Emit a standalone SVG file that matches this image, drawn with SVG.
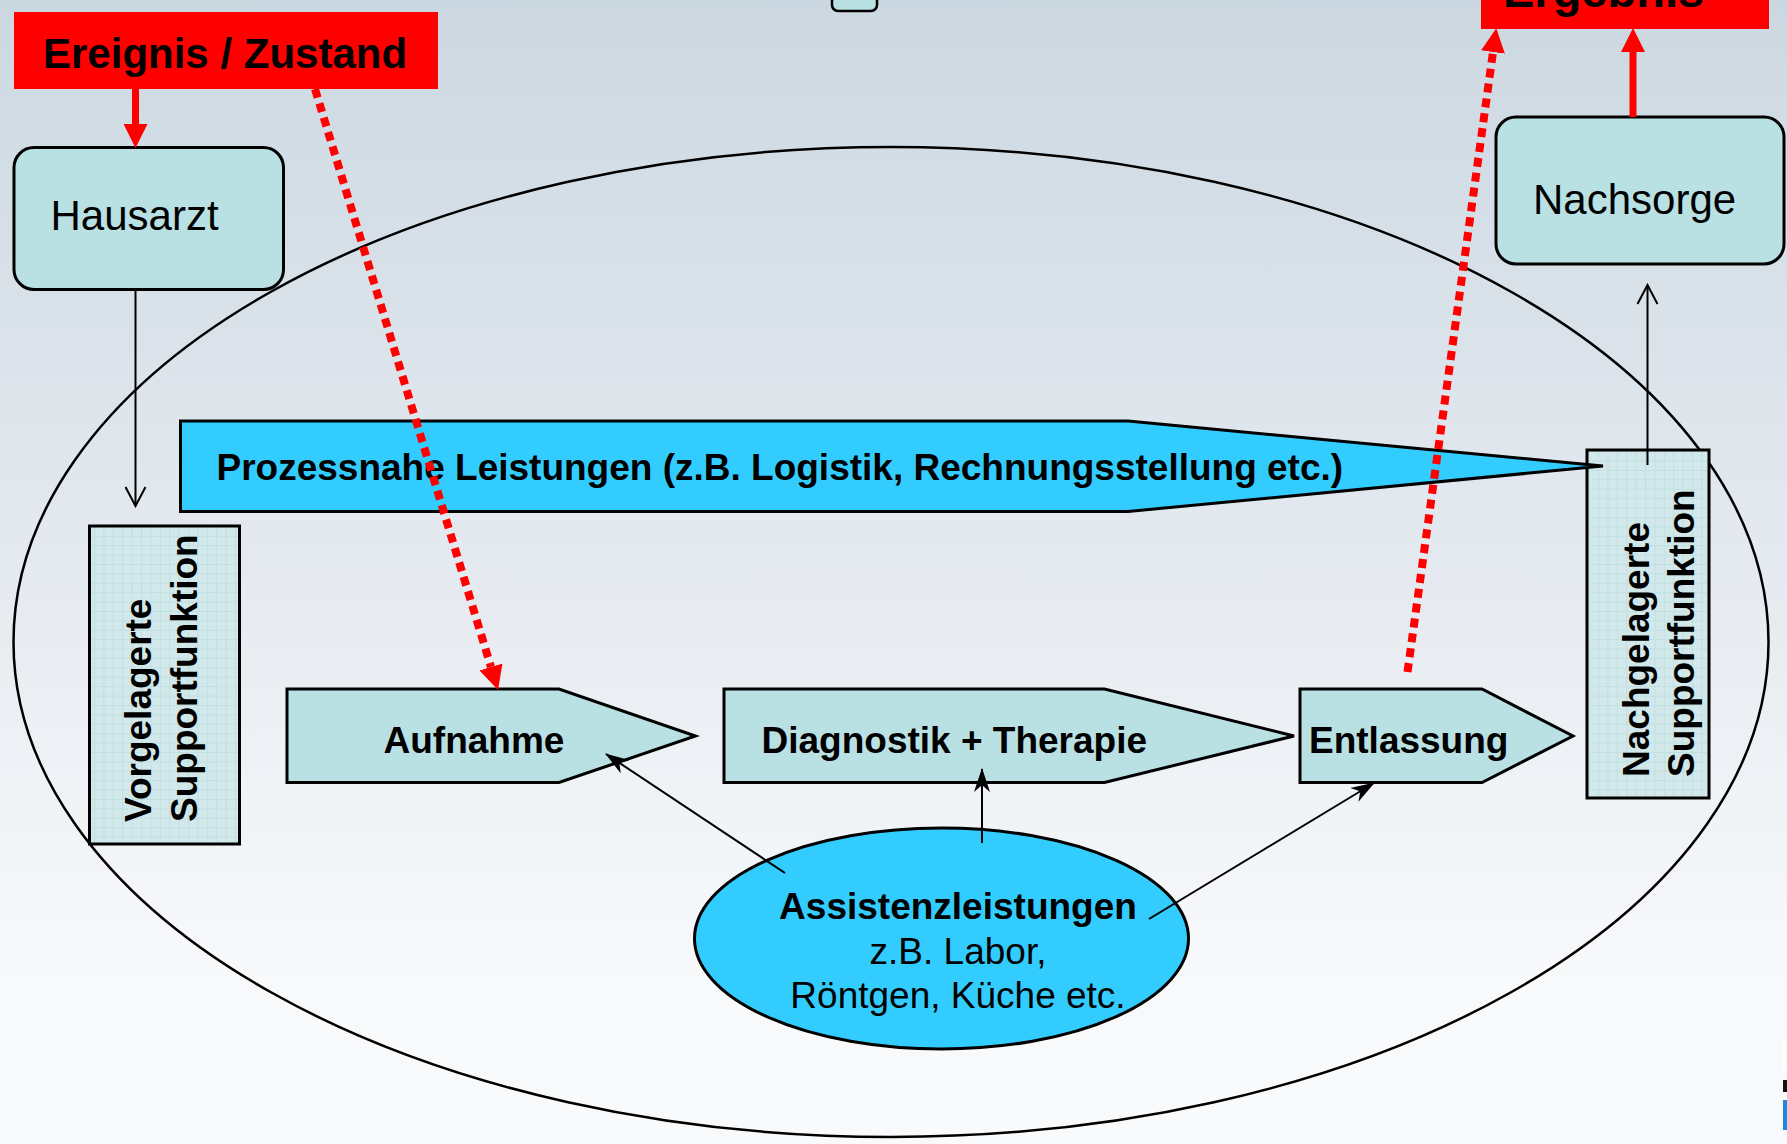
<svg xmlns="http://www.w3.org/2000/svg" width="1787" height="1144" viewBox="0 0 1787 1144">
<defs>
<linearGradient id="bg" x1="0" y1="0" x2="0" y2="1144" gradientUnits="userSpaceOnUse">
<stop offset="0" stop-color="#CCD8E1"/>
<stop offset="0.5" stop-color="#E5EAF0"/>
<stop offset="0.85" stop-color="#F8F9FB"/>
<stop offset="1" stop-color="#F9FAFC"/>
</linearGradient>
<pattern id="grid" width="9.4" height="9.4" patternUnits="userSpaceOnUse">
<rect width="9.4" height="9.4" fill="#D3E8EA"/>
<path d="M0,0.5 H9.4 M0.5,0 V9.4" stroke="#BFE0E2" stroke-width="1" fill="none"/>
</pattern>
<marker id="redHead" markerUnits="userSpaceOnUse" markerWidth="24" markerHeight="24" viewBox="0 0 24 24" refX="0" refY="12" orient="auto">
<path d="M0,0 L24,12 L0,24 Z" fill="#FF0000"/>
</marker>
<marker id="stealth" markerUnits="userSpaceOnUse" markerWidth="24" markerHeight="16" viewBox="0 0 24 16" refX="23" refY="8" orient="auto">
<path d="M0,0 L24,8 L0,16 L7,8 Z" fill="#000"/>
</marker>
<marker id="openV" markerUnits="userSpaceOnUse" markerWidth="22" markerHeight="24" viewBox="0 0 22 24" refX="20" refY="12" orient="auto">
<path d="M1,2 L20,12 L1,22" fill="none" stroke="#000" stroke-width="2"/>
</marker>
</defs>
<style>
.t{font-family:"Liberation Sans",Arial,sans-serif;fill:#000}
.b{font-weight:bold}
.teal{fill:#B9E0E3;stroke:#000;stroke-width:3}
.sup{fill:url(#grid);stroke:#000;stroke-width:3}
.red{fill:#FF0000}
.conn{stroke:#000;stroke-width:2;fill:none}
.redline{stroke:#FF0000;stroke-width:7;fill:none}
.reddot{stroke:#FF0000;stroke-width:8;fill:none;stroke-dasharray:9 6}
</style>
<rect x="0" y="0" width="1787" height="1144" fill="url(#bg)"/>
<rect x="1783" y="1040" width="4" height="30" fill="#FFFFFF"/>
<rect x="1783" y="1080" width="4" height="12" fill="#111"/>
<rect x="1783" y="1100" width="4" height="30" fill="#1E84E0"/>

<g id="frame">
<ellipse cx="891" cy="642" rx="877.5" ry="495" fill="none" stroke="#000" stroke-width="2.5"/>
</g>

<g id="top-box">
<rect x="832" y="-30" width="45" height="41" rx="6" fill="#B9E0E3" stroke="#000" stroke-width="2.5"/>
</g>

<g id="ereignis">
<rect class="red" x="14" y="12" width="424" height="77"/>
<text class="t b" x="43" y="68" font-size="42">Ereignis / Zustand</text>
</g>

<g id="ergebnis">
<rect class="red" x="1481" y="-40" width="288" height="69"/>
<text class="t b" x="1503" y="7" font-size="47">Ergebnis</text>
</g>

<g id="hausarzt">
<rect class="teal" x="14" y="147.5" width="269.5" height="142" rx="20"/>
<text class="t" x="50.5" y="229.5" font-size="42">Hausarzt</text>
</g>

<g id="nachsorge">
<rect class="teal" x="1496" y="117" width="288" height="147" rx="20"/>
<text class="t" x="1533" y="214" font-size="42">Nachsorge</text>
</g>

<g id="vorgelagerte">
<rect class="sup" x="89.5" y="526" width="150" height="318"/>
<text class="t b" font-size="37" transform="translate(151,822) rotate(-90)">Vorgelagerte</text>
<text class="t b" font-size="37" transform="translate(196.5,822) rotate(-90)">Supportfunktion</text>
</g>

<g id="nachgelagerte">
<rect class="sup" x="1587" y="450" width="122" height="348"/>
<text class="t b" font-size="37" transform="translate(1649,777) rotate(-90)">Nachgelagerte</text>
<text class="t b" font-size="37" transform="translate(1694,777) rotate(-90)">Supportfunktion</text>
</g>

<g id="prozessnahe">
<path d="M180.5,421 H1128 L1603,466 L1128,511.5 H180.5 Z" fill="#33CCFF" stroke="#000" stroke-width="3"/>
<text class="t b" x="216.5" y="480" font-size="37">Prozessnahe Leistungen (z.B. Logistik, Rechnungsstellung etc.)</text>
</g>

<g id="aufnahme">
<path class="teal" d="M287,689 H559 L695.5,736 L559,782.5 H287 Z"/>
<text class="t b" x="383.5" y="752.7" font-size="37">Aufnahme</text>
</g>

<g id="diagnostik">
<path class="teal" d="M724,689 H1104.5 L1294,736 L1104.5,782.5 H724 Z"/>
<text class="t b" x="761.5" y="753.3" font-size="37">Diagnostik + Therapie</text>
</g>

<g id="entlassung">
<path class="teal" d="M1300,689 H1482 L1573,736 L1482,782.5 H1300 Z"/>
<text class="t b" x="1309" y="753.3" font-size="37">Entlassung</text>
</g>

<g id="assistenz">
<ellipse cx="941.5" cy="938.5" rx="247" ry="110.5" fill="#33CCFF" stroke="#000" stroke-width="3"/>
<text class="t" font-size="37" text-anchor="middle"><tspan class="b" x="958" y="919">Assistenzleistungen</tspan><tspan x="958" y="964">z.B. Labor,</tspan><tspan x="958" y="1008.3">Röntgen, Küche etc.</tspan></text>
</g>

<g id="connectors">
<line class="redline" x1="135.5" y1="89" x2="135.5" y2="124" marker-end="url(#redHead)"/>
<line class="redline" x1="1633" y1="117" x2="1633" y2="52" marker-end="url(#redHead)"/>
<line class="conn" x1="135.5" y1="289.5" x2="135.5" y2="506" marker-end="url(#openV)"/>
<line class="conn" x1="1647.5" y1="465" x2="1647.5" y2="285" marker-end="url(#openV)"/>
<line class="conn" x1="785" y1="873" x2="606" y2="754" marker-end="url(#stealth)"/>
<line class="conn" x1="982" y1="843" x2="982" y2="769" marker-end="url(#stealth)"/>
<line class="conn" x1="1149" y1="919" x2="1374" y2="783" marker-end="url(#stealth)"/>
<line class="reddot" x1="315" y1="89" x2="491" y2="667" marker-end="url(#redHead)"/>
<line class="reddot" x1="1407.5" y1="672" x2="1493" y2="52" marker-end="url(#redHead)"/>
</g>
</svg>
